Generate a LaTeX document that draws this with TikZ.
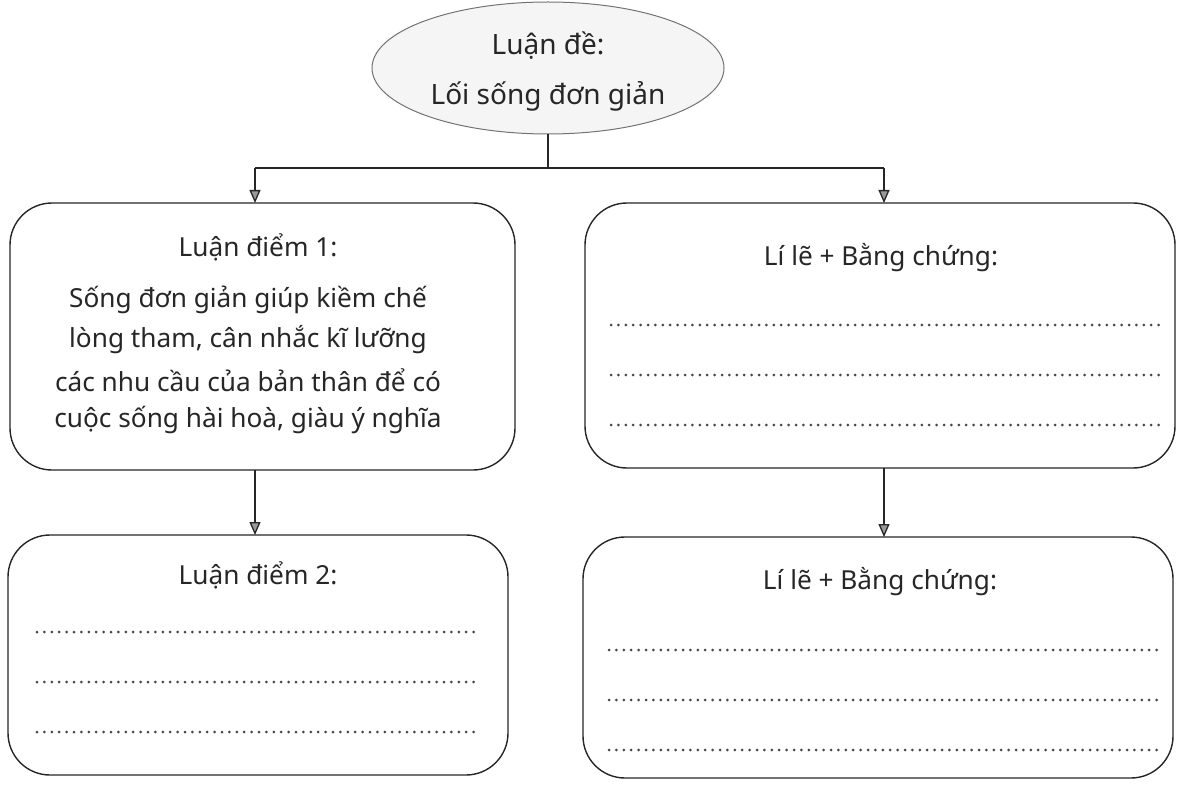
\documentclass[tikz,border=0pt]{standalone}
\usepackage{fontspec}
\setmainfont{Noto Sans}
\usetikzlibrary{arrows.meta,shapes.geometric}
\begin{document}
\begin{tikzpicture}[x=1pt,y=-1pt,
  box/.style={draw=black!85,line width=1.4pt,rounded corners=42pt},
  txt/.style={font=\fontsize{26.2}{38}\selectfont,text=black!85,inner sep=0pt},
  ttxt/.style={font=\fontsize{28}{40}\selectfont,text=black!85,inner sep=0pt},
  dotline/.style={line width=3pt,line cap=round,dash pattern=on 0pt off 7.4pt,black!72},
  conn/.style={line width=1.3pt,black!85},
  arr/.style={conn,-{Triangle[length=13pt,width=11pt,fill=black!40]}}]
\useasboundingbox (0,0) rectangle (1185,786);
% ellipse
\node[draw=black!55,fill=black!4,ellipse,minimum width=352pt,minimum height=132pt,line width=1pt,inner sep=0pt] (top) at (548,68) {};
\node[ttxt] (t1) at (548,46) {Luận đề:};
\node[ttxt] (t2) at (548,96) {Lối sống đơn giản};
% boxes
\draw[box] (10,203) rectangle (515,470);
\draw[box] (585,203) rectangle (1175,468);
\draw[box] (8,535) rectangle (508,775);
\draw[box] (583,537) rectangle (1173,778);
\coordinate (b1t) at (255,203); \coordinate (b1b) at (255,470);
\coordinate (b2t) at (884,203); \coordinate (b2b) at (884,468);
\coordinate (b3t) at (255,535); \coordinate (b4t) at (884,537);
\coordinate (j) at (548,168);
% connectors
\draw[conn] (top.south) -- (j);
\draw[conn] (b1t |- j) -- (b2t |- j);
\draw[arr] (b1t |- j) -- (b1t);
\draw[arr] (b2t |- j) -- (b2t);
\draw[arr] (b1b) -- (b3t);
\draw[arr] (b2b) -- (b4t);
% box 1 text
\node[txt] (l1) at (258,247) {Luận điểm 1:};
\node[txt] (l1a) at (248,300) {Sống đơn giản giúp kiềm chế};
\node[txt] (l1b) at (248,340) {lòng tham, cân nhắc kĩ lưỡng};
\node[txt] (l1c) at (248,380) {các nhu cầu của bản thân để có};
\node[txt] (l1d) at (248,420) {cuộc sống hài hoà, giàu ý nghĩa};
% box 2
\node[txt] (l2) at (881,258) {Lí lẽ + Bằng chứng:};
\foreach \y in {325,375,425} \draw[dotline] (611,\y) -- (1159,\y);
% box 3
\node[txt] (l3) at (258,575) {Luận điểm 2:};
\foreach \y in {632,682,732} \draw[dotline] (37,\y) -- (477,\y);
% box 4
\node[txt] (l4) at (880,582) {Lí lẽ + Bằng chứng:};
\foreach \y in {650,700,750} \draw[dotline] (609,\y) -- (1157,\y);
\end{tikzpicture}
\end{document}
